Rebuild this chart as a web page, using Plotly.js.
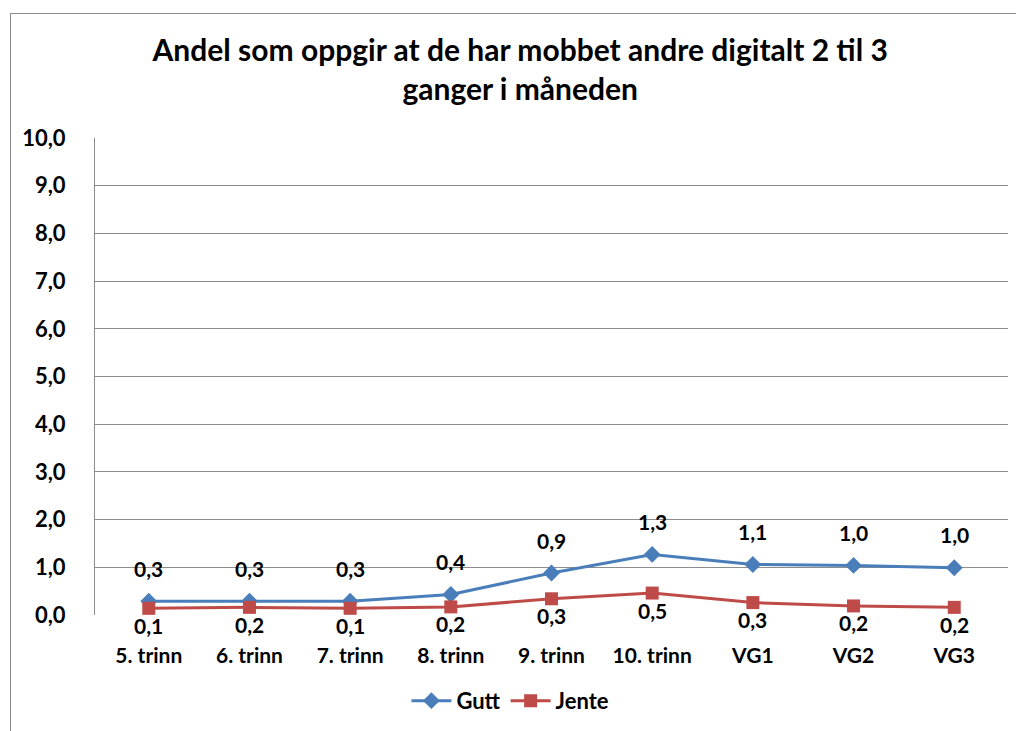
<!DOCTYPE html>
<html>
<head>
<meta charset="utf-8">
<script src="https://cdn.plot.ly/plotly-3.0.1.min.js"></script>
<style>
  html, body { margin: 0; padding: 0; background: #fff; }
  #chart { width: 1016px; height: 731px; }
  #frame { position: absolute; left: 10px; top: 13px; width: 1010px; height: 730px;
           border-left: 1px solid #8c8c8c; border-top: 1px solid #8c8c8c; pointer-events: none; }
</style>
</head>
<body>
<div id="chart"></div>
<div id="frame"></div>
<script>
const categories = ['5. trinn', '6. trinn', '7. trinn', '8. trinn', '9. trinn', '10. trinn', 'VG1', 'VG2', 'VG3'];
const gutt = [0.29, 0.29, 0.29, 0.43, 0.88, 1.27, 1.06, 1.04, 0.99];
const jente = [0.14, 0.16, 0.14, 0.17, 0.34, 0.46, 0.26, 0.19, 0.16];
const yTicks = [0, 1, 2, 3, 4, 5, 6, 7, 8, 9, 10];
const yTickText = ['0,0', '1,0', '2,0', '3,0', '4,0', '5,0', '6,0', '7,0', '8,0', '9,0', '10,0'];

const FONT = 'Lato, "Open Sans", sans-serif';
const fmt = v => v.toFixed(1).replace('.', ',');

const traces = [
  { name: 'Gutt', x: categories, y: gutt, type: 'scatter', mode: 'lines+markers',
    line: { color: '#4A7EBB', width: 3 },
    marker: { symbol: 'diamond', size: 13, color: '#4A7EBB' } },
  { name: 'Jente', x: categories, y: jente, type: 'scatter', mode: 'lines+markers',
    line: { color: '#BE4B48', width: 3 },
    marker: { symbol: 'square', size: 13, color: '#BE4B48' } }
];

const labelFont = { family: FONT, size: 21, color: '#000', weight: 700 };
const annotations = [];
categories.forEach((c, i) => {
  annotations.push({ x: c, y: gutt[i], xref: 'x', yref: 'y', text: fmt(gutt[i]),
    showarrow: false, yshift: 33, font: labelFont });
  annotations.push({ x: c, y: jente[i], xref: 'x', yref: 'y', text: fmt(jente[i]),
    showarrow: false, yshift: -17, font: labelFont });
});

const layout = {
  width: 1016, height: 731,
  margin: { l: 95, r: 8, t: 138, b: 116 },
  paper_bgcolor: 'rgba(0,0,0,0)', plot_bgcolor: '#fff',
  title: { text: 'Andel som oppgir at de har mobbet andre digitalt 2 til 3<br>ganger i måneden',
    x: 0.512, xanchor: 'center', y: 0.917, yref: 'container', yanchor: 'middle',
    font: { family: FONT, size: 30, color: '#000', weight: 700 } },
  xaxis: { type: 'category', showgrid: false, showline: false, zeroline: false, ticks: '',
    ticklabelstandoff: 26,
    tickfont: { family: FONT, size: 21, color: '#000', weight: 700 } },
  yaxis: { range: [0, 10], tickvals: yTicks, ticktext: yTickText, showgrid: true,
    gridcolor: '#8c8c8c', gridwidth: 1, showline: true, linecolor: '#8c8c8c', linewidth: 1,
    zeroline: false, ticks: '', ticklabelstandoff: 24,
    tickfont: { family: FONT, size: 22, color: '#000', weight: 700 } },
  legend: { orientation: 'h', x: 0.455, xanchor: 'center', y: -0.18, yanchor: 'middle',
    font: { family: FONT, size: 22, color: '#000', weight: 700 }, itemwidth: 40 },
  annotations: annotations,
  showlegend: true
};

Plotly.newPlot('chart', traces, layout, { displayModeBar: false, staticPlot: true });
</script>
</body>
</html>
